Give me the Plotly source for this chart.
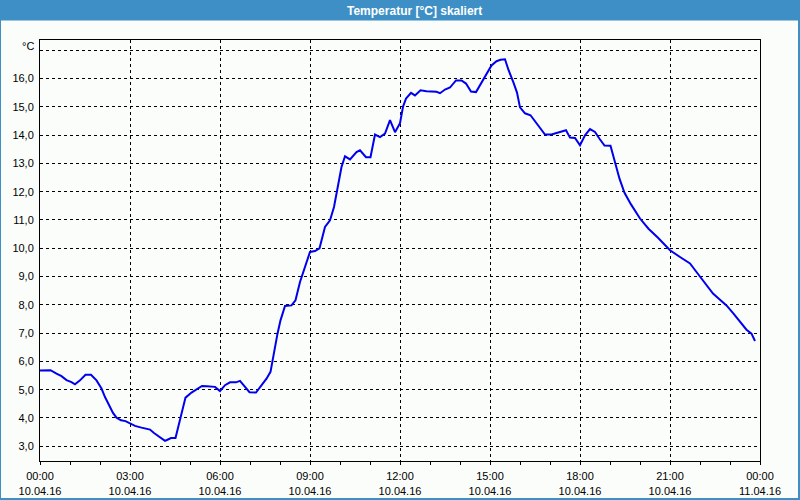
import plotly.graph_objects as go

# ---- data ----
day = "2016-04-10"
times = ["00:00","00:21","00:33","00:43","00:53","01:03","01:10","01:20","01:31","01:42","01:53",
         "02:03","02:10","02:18","02:26","02:33","02:42","02:51","03:00","03:10","03:23","03:40",
         "03:48","04:00","04:10","04:16","04:22","04:31","04:37","04:44","04:51","05:03","05:13",
         "05:24","05:34","05:50","06:00","06:10","06:20","06:32","06:40","06:50","06:59","07:12",
         "07:23","07:33","07:41","07:46","07:51","07:55","08:01","08:10","08:23","08:31","08:40",
         "08:50","09:00","09:10","09:19","09:30","09:40","09:48","09:56","10:03","10:10","10:20",
         "10:33","10:40","10:52","11:01","11:10","11:20","11:30","11:40","11:50","12:00","12:06",
         "12:12","12:22","12:30","12:41","12:53","13:13","13:20","13:30","13:40","13:52","14:03",
         "14:12","14:22","14:32","14:40","14:52","15:03","15:13","15:21","15:30","15:37","15:47",
         "15:54","16:00","16:10","16:21","16:30","16:40","16:50","17:03","17:13","17:23","17:32",
         "17:40","17:50","18:00","18:10","18:20","18:30","18:39","18:49","19:01","19:10","19:19",
         "19:29","19:42","20:00","20:17","20:36","20:47","21:00","21:20","21:40","21:53","22:10",
         "22:26","22:40","22:53","23:07","23:20","23:33","23:43","23:50"]
temps = [5.68,5.69,5.57,5.48,5.34,5.27,5.19,5.33,5.53,5.53,5.33,
         5.04,4.74,4.45,4.18,4.01,3.92,3.89,3.80,3.72,3.66,3.59,
         3.47,3.33,3.19,3.24,3.29,3.29,3.71,4.21,4.72,4.90,5.01,
         5.13,5.12,5.10,4.95,5.16,5.26,5.26,5.31,5.10,4.91,4.90,
         5.16,5.39,5.63,6.16,6.55,6.98,7.45,7.96,7.98,8.16,8.81,
         9.34,9.87,9.90,10.00,10.75,10.99,11.46,12.28,12.87,13.25,13.14,
         13.40,13.46,13.22,13.22,14.02,13.93,14.05,14.53,14.10,14.42,15.00,
         15.29,15.49,15.40,15.58,15.55,15.53,15.48,15.61,15.68,15.93,15.93,
         15.82,15.54,15.52,15.76,16.14,16.46,16.61,16.66,16.68,16.30,15.85,
         15.50,14.98,14.77,14.70,14.48,14.27,14.02,14.02,14.07,14.14,14.17,
         13.91,13.90,13.64,13.99,14.21,14.11,13.87,13.63,13.62,13.02,12.46,
         11.96,11.55,11.05,10.69,10.37,10.16,9.93,9.69,9.46,9.16,8.75,
         8.40,8.18,7.98,7.69,7.39,7.12,6.98,6.72]

x_tick_vals = ["2016-04-10 00:00","2016-04-10 03:00","2016-04-10 06:00","2016-04-10 09:00",
               "2016-04-10 12:00","2016-04-10 15:00","2016-04-10 18:00","2016-04-10 21:00",
               "2016-04-11 00:00"]
x_tick_text = ["00:00<br>10.04.16","03:00<br>10.04.16","06:00<br>10.04.16","09:00<br>10.04.16",
               "12:00<br>10.04.16","15:00<br>10.04.16","18:00<br>10.04.16","21:00<br>10.04.16",
               "00:00<br>11.04.16"]
y_tick_vals = [3,4,5,6,7,8,9,10,11,12,13,14,15,16,17]
y_tick_text = ["3,0","4,0","5,0","6,0","7,0","8,0","9,0","10,0","11,0","12,0","13,0",
               "14,0","15,0","16,0",""]
title_text = "Temperatur [°C] skaliert"
unit_text = "°C"

x = [f"{day} {t}" for t in times]

W, H = 800, 500
L, R, T, B = 40, 40, 40, 39
pw, ph = W - L - R, H - T - B

def px(xp):  # pixel -> paper x
    return (xp - L) / pw

def py(yp):  # pixel -> paper y
    return (H - B - yp) / ph

font = dict(family="Tahoma, Liberation Sans, DejaVu Sans, sans-serif", size=11, color="black")
blue = "#3d8fc6"
bg = "#fbfdfb"

fig = go.Figure()
fig.add_trace(go.Scatter(x=x, y=temps, mode="lines",
                         line=dict(color="#0000ee", width=2), hoverinfo="skip"))

fig.update_layout(
    width=W, height=H,
    margin=dict(l=L, r=R, t=T, b=B, pad=0, autoexpand=False),
    paper_bgcolor=bg, plot_bgcolor=bg,
    showlegend=False,
    font=font,
    xaxis=dict(
        type="date", automargin=False,
        range=["2016-04-10 00:00", "2016-04-11 00:00"],
        tickmode="array", tickvals=x_tick_vals, ticktext=x_tick_text,
        ticks="outside", ticklen=3, tickcolor="black", tickwidth=1,
        showline=True, linecolor="black", linewidth=1, mirror=True,
        showgrid=True, gridcolor="black", gridwidth=1, griddash="3px,3px",
        minor=dict(dtick=3600000, tick0="2016-04-10 00:00", ticks="outside",
                   ticklen=3, tickcolor="black", showgrid=False),
        zeroline=False, tickfont=font, ticklabelstandoff=2,
    ),
    yaxis=dict(
        automargin=False,
        range=[2.48, 17.36],
        tickmode="array", tickvals=y_tick_vals, ticktext=y_tick_text,
        ticks="", showline=True, linecolor="black", linewidth=1, mirror=True,
        showgrid=True, gridcolor="black", gridwidth=1, griddash="3px,3px",
        zeroline=False, tickfont=font, ticklabelstandoff=3,
    ),
    shapes=[
        # title bar
        dict(type="rect", xref="paper", yref="paper", x0=px(0), x1=px(W), y0=py(0), y1=py(20.5),
             fillcolor=blue, line=dict(width=0), layer="above"),
        # window frame
        dict(type="rect", xref="paper", yref="paper", x0=px(0), x1=px(1), y0=py(20), y1=py(H),
             fillcolor=blue, line=dict(width=0), layer="above"),
        dict(type="rect", xref="paper", yref="paper", x0=px(W - 2), x1=px(W), y0=py(20), y1=py(H),
             fillcolor=blue, line=dict(width=0), layer="above"),
        dict(type="rect", xref="paper", yref="paper", x0=px(0), x1=px(W), y0=py(H - 2), y1=py(H),
             fillcolor=blue, line=dict(width=0), layer="above"),
    ],
    annotations=[
        dict(text=f"<b>{title_text}</b>", xref="paper", yref="paper", x=px(414), y=py(10.5),
             xanchor="center", yanchor="middle", showarrow=False,
             font=dict(family=font["family"], size=12, color="white")),
        dict(text=unit_text, xref="paper", yref="paper", x=px(36), y=py(46),
             xanchor="right", yanchor="middle", showarrow=False, font=font),
    ],
)

fig.write_html("out.html")
